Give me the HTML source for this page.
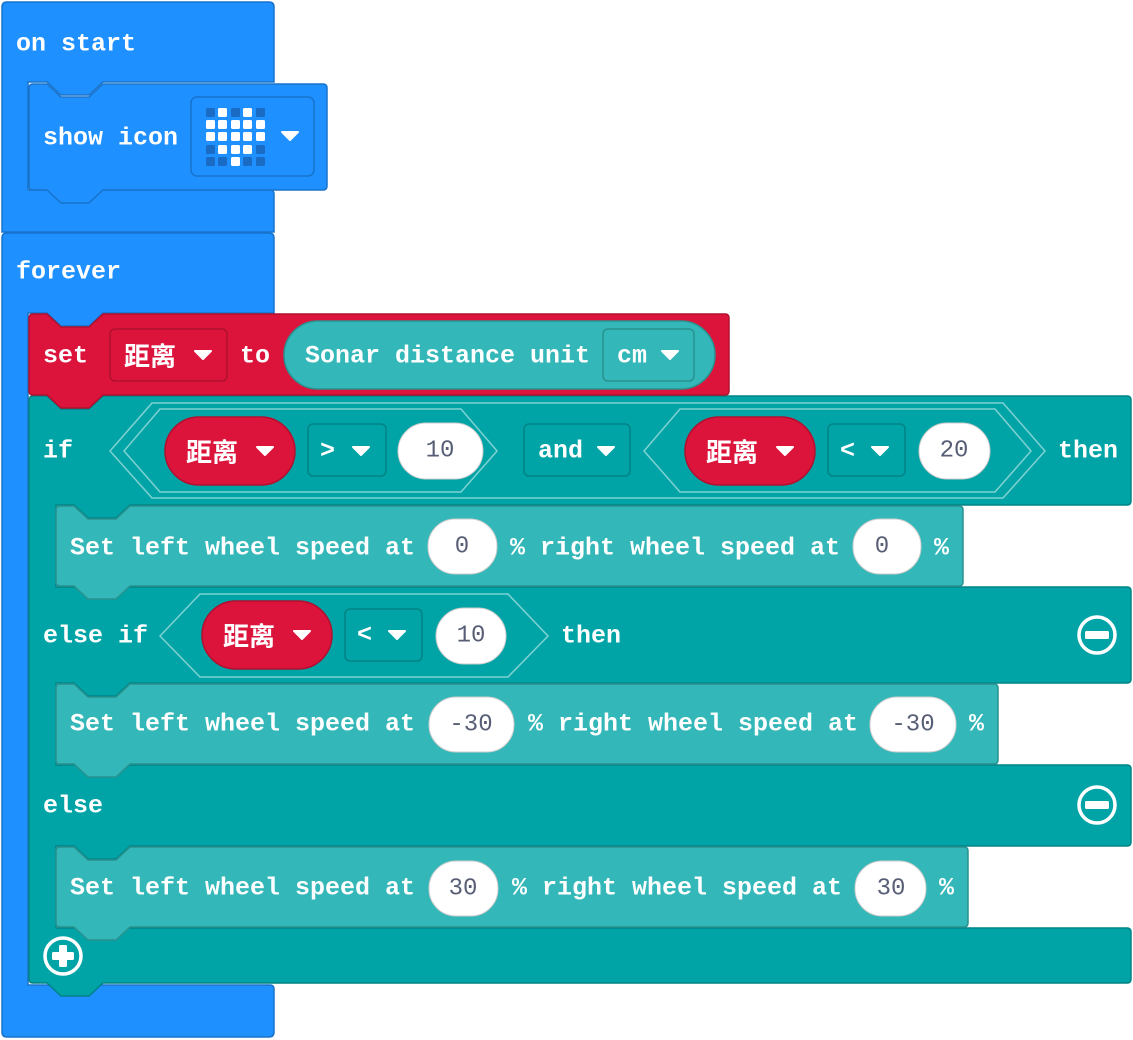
<!DOCTYPE html>
<html><head><meta charset="utf-8"><style>
html,body{margin:0;padding:0;background:#fff;width:1133px;height:1040px;overflow:hidden}
svg{display:block}
.t{font-family:"Liberation Mono","Noto Sans CJK SC",monospace;font-weight:bold;font-size:25px;fill:#fff;dominant-baseline:central}
.n{font-family:"Liberation Mono",monospace;font-size:24px;fill:#575E75;dominant-baseline:central;text-anchor:middle}
.c{font-family:"Noto Sans CJK SC","WenQuanYi Zen Hei",sans-serif;font-weight:bold;font-size:26px;fill:#fff;dominant-baseline:central}
</style></head><body>
<svg width="1133" height="1040" viewBox="0 0 1133 1040" xmlns="http://www.w3.org/2000/svg">
<defs>
<path id="tri" d="M-8,-4 H8 L0,4 Z" fill="#fff" stroke="#fff" stroke-width="2" stroke-linejoin="round"/>
</defs>
<!-- on start -->
<path d="M2,7 Q2,2 7,2 H269 Q274,2 274,7 V82 H103 l-14,13 h-28 l-14,-13 H28 V190 H270 Q274,190 274,194 V232 H2 Z" fill="#1E90FF" stroke="#1873CC" stroke-width="1.5"/>
<text class="t" x="16" y="44">on start</text>
<!-- forever -->
<path d="M2,238 Q2,233 7,233 H269 Q274,233 274,238 V313 H103 l-14,13 h-28 l-14,-13 H28 V985 H270 Q274,985 274,989 V1032 Q274,1037 269,1037 H7 Q2,1037 2,1032 Z" fill="#1E90FF" stroke="#1873CC" stroke-width="1.5"/>
<text class="t" x="16" y="272">forever</text>
<!-- show icon -->
<path d="M29,88 Q29,84 33,84 H47 l14,13 h28 l14,-13 H323 Q327,84 327,88 V186 Q327,190 323,190 H103 l-14,13 h-28 l-14,-13 H33 Q29,190 29,186 Z" fill="#1E90FF" stroke="#1873CC" stroke-width="1.5"/>
<text class="t" x="43" y="138">show icon</text>
<rect x="191" y="97" width="123" height="79" rx="6" fill="#1E90FF" stroke="#1873CC" stroke-width="1.5"/>
<g fill="#1a6bc4">
<rect x="206" y="108" width="9" height="9" rx="1.5"/><rect x="231" y="108" width="9" height="9" rx="1.5"/><rect x="256" y="108" width="9" height="9" rx="1.5"/>
<rect x="206" y="145" width="9" height="9" rx="1.5"/><rect x="256" y="145" width="9" height="9" rx="1.5"/>
<rect x="206" y="157" width="9" height="9" rx="1.5"/><rect x="218" y="157" width="9" height="9" rx="1.5"/><rect x="243" y="157" width="9" height="9" rx="1.5"/><rect x="256" y="157" width="9" height="9" rx="1.5"/>
</g>
<g fill="#fff">
<rect x="218" y="108" width="9" height="9" rx="1.5"/><rect x="243" y="108" width="9" height="9" rx="1.5"/>
<rect x="206" y="120" width="9" height="9" rx="1.5"/><rect x="218" y="120" width="9" height="9" rx="1.5"/><rect x="231" y="120" width="9" height="9" rx="1.5"/><rect x="243" y="120" width="9" height="9" rx="1.5"/><rect x="256" y="120" width="9" height="9" rx="1.5"/>
<rect x="206" y="132" width="9" height="9" rx="1.5"/><rect x="218" y="132" width="9" height="9" rx="1.5"/><rect x="231" y="132" width="9" height="9" rx="1.5"/><rect x="243" y="132" width="9" height="9" rx="1.5"/><rect x="256" y="132" width="9" height="9" rx="1.5"/>
<rect x="218" y="145" width="9" height="9" rx="1.5"/><rect x="231" y="145" width="9" height="9" rx="1.5"/><rect x="243" y="145" width="9" height="9" rx="1.5"/>
<rect x="231" y="157" width="9" height="9" rx="1.5"/>
</g>
<use href="#tri" x="290" y="136"/>

<!-- if block -->
<path d="M29,400 Q29,396 33,396 H47 l14,13 h28 l14,-13 H1127 Q1131,396 1131,400 V501 Q1131,505 1127,505 H130 l-14,13 h-28 l-14,-13 H56 V587 H1127 Q1131,587 1131,591 V679 Q1131,683 1127,683 H130 l-14,13 h-28 l-14,-13 H56 V765 H1127 Q1131,765 1131,769 V842 Q1131,846 1127,846 H130 l-14,13 h-28 l-14,-13 H56 V928 H1127 Q1131,928 1131,932 V979 Q1131,983 1127,983 H103 l-14,13 h-28 l-14,-13 H33 Q29,983 29,979 Z" fill="#00A4A6" stroke="#008385" stroke-width="1.5"/>
<text class="t" x="43" y="451">if</text>
<!-- hexagons -->
<path d="M110,451 L152,403 H1003 L1045,451 L1003,498 H152 Z" fill="none" stroke="#7fd2d3" stroke-width="1.5"/>
<path d="M124,451 L160,409 H461 L497,451 L461,492 H160 Z" fill="none" stroke="#7fd2d3" stroke-width="1.5"/>
<path d="M644,451 L680,409 H995 L1031,451 L995,492 H680 Z" fill="none" stroke="#7fd2d3" stroke-width="1.5"/>
<rect x="165" y="417" width="130" height="68" rx="34" fill="#DC143C" stroke="#B0102F" stroke-width="1.5"/>
<text class="c" x="186" y="451">距离</text><use href="#tri" x="265" y="451"/>
<rect x="308" y="424" width="78" height="52" rx="5" fill="#00A4A6" stroke="#008385" stroke-width="1.5"/>
<text class="t" x="320" y="451">&gt;</text><use href="#tri" x="361" y="451"/>
<rect x="398" y="423" width="85" height="56" rx="28" fill="#fff" stroke="#ccc" stroke-width="1"/>
<text class="n" x="440" y="451">10</text>
<rect x="524" y="424" width="106" height="52" rx="5" fill="#00A4A6" stroke="#008385" stroke-width="1.5"/>
<text class="t" x="538" y="451">and</text><use href="#tri" x="606" y="451"/>
<rect x="685" y="417" width="130" height="68" rx="34" fill="#DC143C" stroke="#B0102F" stroke-width="1.5"/>
<text class="c" x="706" y="451">距离</text><use href="#tri" x="785" y="451"/>
<rect x="828" y="424" width="77" height="52" rx="5" fill="#00A4A6" stroke="#008385" stroke-width="1.5"/>
<text class="t" x="840" y="451">&lt;</text><use href="#tri" x="880" y="451"/>
<rect x="919" y="423" width="71" height="56" rx="28" fill="#fff" stroke="#ccc" stroke-width="1"/>
<text class="n" x="954" y="451">20</text>
<text class="t" x="1058" y="451">then</text>

<!-- set 1 -->
<path d="M56,510 Q56,506 60,506 H74 l14,13 h28 l14,-13 H959 Q963,506 963,510 V582 Q963,586 959,586 H130 l-14,13 h-28 l-14,-13 H60 Q56,586 56,582 Z" fill="#33B7B8" stroke="#29928f" stroke-width="1.5"/>
<text class="t" x="70" y="548">Set left wheel speed at</text>
<rect x="428" y="519" width="69" height="55" rx="27" fill="#fff" stroke="#ccc"/><text class="n" x="462" y="547">0</text>
<text class="t" x="510" y="548">% right wheel speed at</text>
<rect x="853" y="519" width="68" height="55" rx="27" fill="#fff" stroke="#ccc"/><text class="n" x="882" y="547">0</text>
<text class="t" x="934" y="548">%</text>

<!-- else if -->
<text class="t" x="43" y="636">else if</text>
<path d="M160,636 L200,594 H508 L548,636 L508,677 H200 Z" fill="none" stroke="#7fd2d3" stroke-width="1.5"/>
<rect x="202" y="601" width="130" height="68" rx="34" fill="#DC143C" stroke="#B0102F" stroke-width="1.5"/>
<text class="c" x="223" y="635">距离</text><use href="#tri" x="302" y="635"/>
<rect x="345" y="609" width="77" height="52" rx="5" fill="#00A4A6" stroke="#008385" stroke-width="1.5"/>
<text class="t" x="357" y="635">&lt;</text><use href="#tri" x="397" y="635"/>
<rect x="436" y="608" width="70" height="56" rx="28" fill="#fff" stroke="#ccc"/><text class="n" x="471" y="636">10</text>
<text class="t" x="561" y="636">then</text>
<circle cx="1097" cy="635" r="18" fill="none" stroke="#fff" stroke-width="3.5"/><rect x="1085" y="631" width="24" height="8" rx="1.5" fill="#fff"/>

<!-- set 2 -->
<path d="M56,688 Q56,684 60,684 H74 l14,13 h28 l14,-13 H994 Q998,684 998,688 V760 Q998,764 994,764 H130 l-14,13 h-28 l-14,-13 H60 Q56,764 56,760 Z" fill="#33B7B8" stroke="#29928f" stroke-width="1.5"/>
<text class="t" x="70" y="724">Set left wheel speed at</text>
<rect x="429" y="697" width="85" height="55" rx="27" fill="#fff" stroke="#ccc"/><text class="n" x="471" y="725">-30</text>
<text class="t" x="528" y="724">% right wheel speed at</text>
<rect x="870" y="697" width="86" height="55" rx="27" fill="#fff" stroke="#ccc"/><text class="n" x="913" y="725">-30</text>
<text class="t" x="969" y="724">%</text>

<!-- else -->
<text class="t" x="43" y="806">else</text>
<circle cx="1097" cy="805" r="18" fill="none" stroke="#fff" stroke-width="3.5"/><rect x="1085" y="801" width="24" height="8" rx="1.5" fill="#fff"/>

<!-- set 3 -->
<path d="M56,851 Q56,847 60,847 H74 l14,13 h28 l14,-13 H964 Q968,847 968,851 V923 Q968,927 964,927 H130 l-14,13 h-28 l-14,-13 H60 Q56,927 56,923 Z" fill="#33B7B8" stroke="#29928f" stroke-width="1.5"/>
<text class="t" x="70" y="888">Set left wheel speed at</text>
<rect x="429" y="861" width="69" height="55" rx="27" fill="#fff" stroke="#ccc"/><text class="n" x="463" y="889">30</text>
<text class="t" x="512" y="888">% right wheel speed at</text>
<rect x="855" y="861" width="71" height="55" rx="27" fill="#fff" stroke="#ccc"/><text class="n" x="891" y="889">30</text>
<text class="t" x="939" y="888">%</text>

<!-- plus -->
<circle cx="63" cy="956" r="18" fill="none" stroke="#fff" stroke-width="3.5"/>
<rect x="52" y="952" width="22" height="8" rx="1.5" fill="#fff"/><rect x="59" y="945" width="8" height="22" rx="1.5" fill="#fff"/>

<!-- set block (red) -->
<path d="M29,318 Q29,314 33,314 H47 l14,13 h28 l14,-13 H725 Q729,314 729,318 V391 Q729,395 725,395 H103 l-14,13 h-28 l-14,-13 H33 Q29,395 29,391 Z" fill="#DC143C" stroke="#B0102F" stroke-width="1.5"/>
<text class="t" x="43" y="356">set</text>
<rect x="110" y="329" width="117" height="52" rx="5" fill="#DC143C" stroke="#B0102F" stroke-width="1.5"/>
<text class="c" x="124" y="355">距离</text><use href="#tri" x="203" y="355"/>
<text class="t" x="240" y="356">to</text>
<rect x="284" y="321" width="431" height="68" rx="34" fill="#33B7B8" stroke="#29928f" stroke-width="1.5"/>
<text class="t" x="305" y="356">Sonar distance unit</text>
<rect x="603" y="329" width="91" height="52" rx="5" fill="#33B7B8" stroke="#29928f" stroke-width="1.5"/>
<text class="t" x="617" y="356">cm</text><use href="#tri" x="670" y="355"/>
</svg>
</body></html>
